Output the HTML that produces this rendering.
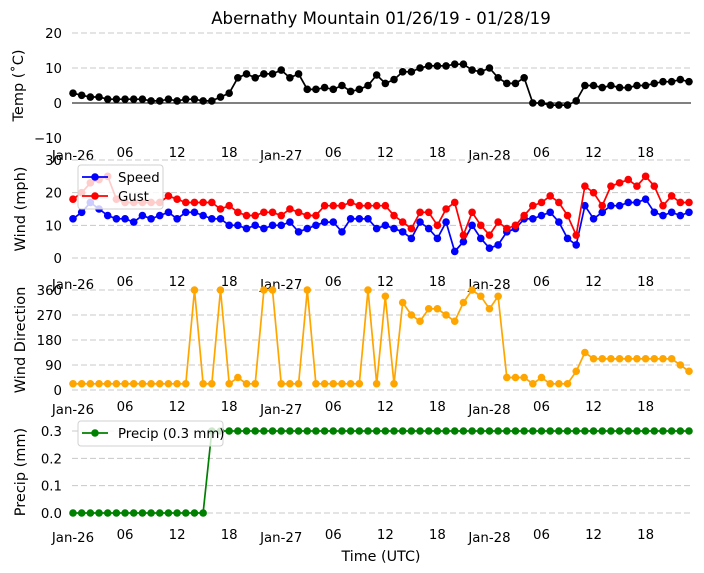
<!DOCTYPE html>
<html><head><meta charset="utf-8"><style>
body{margin:0;background:#fff;}
svg{display:block;font-family:"DejaVu Sans","Liberation Sans",sans-serif;}
</style></head><body>
<svg id="chart" width="704" height="573" viewBox="0 0 704 573" xmlns="http://www.w3.org/2000/svg">
<text x="381" y="24" font-size="16.6" text-anchor="middle">Abernathy Mountain 01/26/19 - 01/28/19</text>
<text x="381" y="561" font-size="14.3" text-anchor="middle">Time (UTC)</text>
</svg>
<script>
const hours = Array.from({length:72},(_,i)=>i);
const xTickHours = [0,6,12,18,24,30,36,42,48,54,60,66];
const xTickLabels = ["Jan-26","06","12","18","Jan-27","06","12","18","Jan-28","06","12","18"];
const temp = [2.8,2.2,1.7,1.7,1.1,1.1,1.1,1.1,1.1,0.6,0.6,1.1,0.6,1.1,1.1,0.6,0.6,1.7,2.8,7.2,8.3,7.2,8.3,8.3,9.4,7.2,8.3,3.9,3.9,4.4,3.9,5,3.3,3.9,5,8,5.6,6.7,8.9,8.9,10,10.6,10.6,10.6,11.1,11.1,9.4,8.9,10,7.2,5.6,5.6,7.2,0,0,-0.6,-0.6,-0.6,0.6,5,5,4.4,5,4.4,4.4,5,5,5.6,6.1,6.1,6.7,6.1];
const speed = [12,14,17,15,13,12,12,11,13,12,13,14,12,14,14,13,12,12,10,10,9,10,9,10,10,11,8,9,10,11,11,8,12,12,12,9,10,9,8,6,11,9,6,11,2,5,10,6,3,4,8,9,12,12,13,14,11,6,4,16,12,14,16,16,17,17,18,14,13,14,13,14];
const gust = [18,20,23,24,25,18,17,17,17,17,17,19,18,17,17,17,17,15,16,14,13,13,14,14,13,15,14,13,13,16,16,16,17,16,16,16,16,13,11,9,14,14,10,15,17,7,14,10,7,11,9,10,13,16,17,19,17,13,7,22,20,16,22,23,24,22,25,22,16,19,17,17];
const direction = [22.5,22.5,22.5,22.5,22.5,22.5,22.5,22.5,22.5,22.5,22.5,22.5,22.5,22.5,360,22.5,22.5,360,22.5,45,22.5,22.5,360,360,22.5,22.5,22.5,360,22.5,22.5,22.5,22.5,22.5,22.5,360,22.5,337.5,22.5,315,270,247.5,292.5,292.5,270,247.5,315,360,337.5,292.5,337.5,45,45,45,22.5,45,22.5,22.5,22.5,67.5,135,112.5,112.5,112.5,112.5,112.5,112.5,112.5,112.5,112.5,112.5,90,67.5];
const precip = [0,0,0,0,0,0,0,0,0,0,0,0,0,0,0,0,0.3,0.3,0.3,0.3,0.3,0.3,0.3,0.3,0.3,0.3,0.3,0.3,0.3,0.3,0.3,0.3,0.3,0.3,0.3,0.3,0.3,0.3,0.3,0.3,0.3,0.3,0.3,0.3,0.3,0.3,0.3,0.3,0.3,0.3,0.3,0.3,0.3,0.3,0.3,0.3,0.3,0.3,0.3,0.3,0.3,0.3,0.3,0.3,0.3,0.3,0.3,0.3,0.3,0.3,0.3,0.3];

const svg = document.getElementById('chart');
const NS = 'http://www.w3.org/2000/svg';
const X0 = 73, X1 = 689;
function xScale(h){ return X0 + (h/71)*(X1-X0); }
function mk(tag, attrs){ const e=document.createElementNS(NS,tag); for(const k in attrs) e.setAttribute(k,attrs[k]); return e; }

function panel(cfg){
  const g = mk('g',{});
  
  
  svg.appendChild(g);
  const y = v => cfg.yTop + (cfg.vMax - v)/(cfg.vMax - cfg.vMin)*(cfg.yBot - cfg.yTop);
  cfg.grid.forEach((v,i)=>{
    const yy = y(v);
    if(!cfg.noGrid || cfg.noGrid.indexOf(v)<0){
      const ln = mk('line',{x1:72,x2:691,y1:yy,y2:yy,stroke:'#c8c8c8','stroke-width':1,'stroke-dasharray':'6,3'});
      
      
      g.appendChild(ln);
    }
    const t = mk('text',{x:62,y:yy+5,'font-size':13.3,'text-anchor':'end'});
    t.textContent = cfg.gridLabels[i];
    
    
    g.appendChild(t);
  });
  if(cfg.zeroLine){
    const zl = mk('line',{x1:72,x2:691,y1:y(0),y2:y(0),stroke:'#000','stroke-width':1});
    
    
    g.appendChild(zl);
  }
  xTickHours.forEach((h,i)=>{
    const isDate = xTickLabels[i].startsWith('Jan');
    const t = mk('text',{x:xScale(h),y:cfg.tickY + (isDate?3:0),'font-size':13.3,'text-anchor':'middle'});
    t.textContent = xTickLabels[i];
    
    
    g.appendChild(t);
  });
  const yl = mk('text',{x:0,y:0,'font-size':14.5,'text-anchor':'middle',transform:`translate(${cfg.labelX},${(cfg.yTop+cfg.yBot)/2}) rotate(-90)`});
  yl.textContent = cfg.label;
  
  
  g.appendChild(yl);
  cfg.series.forEach(s=>{
    const pts = s.data.map((v,i)=>xScale(hours[i]).toFixed(1)+','+y(v).toFixed(1)).join(' ');
    const pl = mk('polyline',{points:pts,fill:'none',stroke:s.color,'stroke-width':1.7});
    
    
    g.appendChild(pl);
    s.data.forEach((v,i)=>{
      const c = mk('circle',{cx:xScale(hours[i]),cy:y(v),r:3.8,fill:s.color});
      
      
      g.appendChild(c);
    });
  });
  return g;
}

panel({name:'temp-panel',yTop:33,yBot:138,vMax:20,vMin:-10,grid:[20,10,0,-10],gridLabels:['20','10','0','\u221210'],noGrid:[0,-10],zeroLine:true,tickY:157,label:'Temp (\u02daC)',labelX:23,series:[{name:'temp',data:temp,color:'#000'}]});
panel({name:'wind-panel',yTop:160,yBot:258,vMax:30,vMin:0,grid:[30,20,10,0],gridLabels:['30','20','10','0'],tickY:286,label:'Wind (mph)',labelX:25,series:[{name:'speed',data:speed,color:'#0000ff'},{name:'gust',data:gust,color:'#ff0000'}]});
panel({name:'direction-panel',yTop:290,yBot:390,vMax:360,vMin:0,grid:[360,270,180,90,0],gridLabels:['360','270','180','90','0'],tickY:411,label:'Wind Direction',labelX:25,series:[{name:'direction',data:direction,color:'#ffa500'}]});
panel({name:'precip-panel',yTop:431,yBot:513,vMax:0.3,vMin:0,grid:[0.3,0.2,0.1,0],gridLabels:['0.3','0.2','0.1','0.0'],tickY:539,label:'Precip (mm)',labelX:25,series:[{name:'precip',data:precip,color:'#008000'}]});

function legend(name,x,y,w,entries){
  const g = mk('g',{});
  
  
  svg.appendChild(g);
  g.appendChild(mk('rect',{x:x,y:y,width:w,height:entries.length*19+6,rx:3,fill:'rgba(255,255,255,0.8)',stroke:'#d0d0d0'}));
  entries.forEach((e,i)=>{
    const cy = y+12+i*19;
    const item = mk('g',{});
    
    
    item.appendChild(mk('line',{x1:x+4,x2:x+30,y1:cy,y2:cy,stroke:e.color,'stroke-width':1.7}));
    item.appendChild(mk('circle',{cx:x+17,cy:cy,r:3.8,fill:e.color}));
    const t = mk('text',{x:x+40,y:cy+5,'font-size':13.3});
    t.textContent = e.label;
    item.appendChild(t);
    g.appendChild(item);
  });
}
legend('wind-legend',78,165,85,[{label:'Speed',color:'#0000ff'},{label:'Gust',color:'#ff0000'}]);
legend('precip-legend',78,421,145,[{label:'Precip (0.3 mm)',color:'#008000'}]);
</script>
</body></html>
